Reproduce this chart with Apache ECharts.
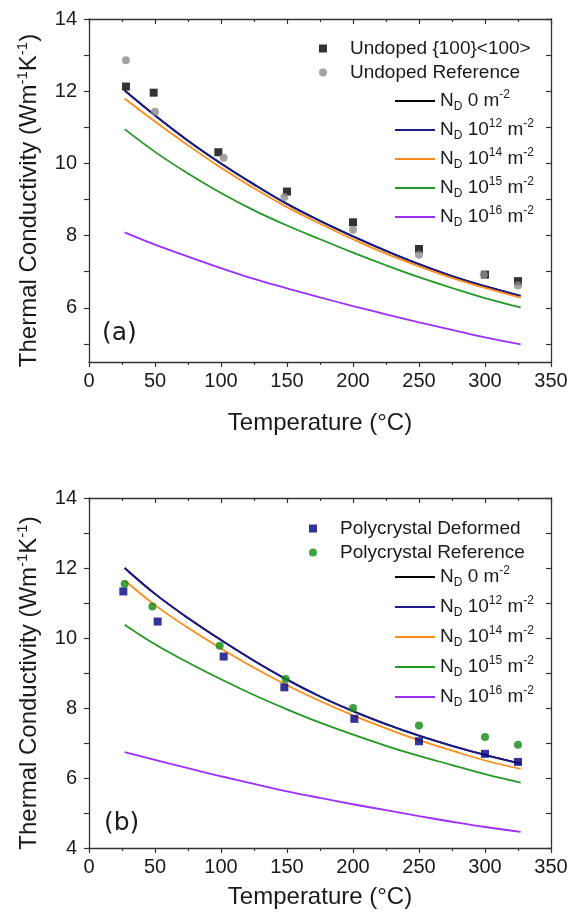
<!DOCTYPE html>
<html>
<head>
<meta charset="utf-8">
<script src="https://cdn.jsdelivr.net/npm/echarts@6/dist/echarts.min.js"></script>
<style>
html, body { margin: 0; padding: 0; background: #fff; }
#chart { width: 577px; height: 922px; }
</style>
</head>
<body>
<div id="chart"></div>
<script>
const curveT = [27, 50, 75, 100, 125, 150, 175, 200, 225, 250, 275, 300, 327];

// (a) single crystal
const aND0 = [12.02, 11.33, 10.63, 10.0, 9.42, 8.88, 8.41, 7.98, 7.58, 7.21, 6.88, 6.6, 6.33];
const aND12 = [12.02, 11.33, 10.63, 10.0, 9.42, 8.88, 8.41, 7.98, 7.58, 7.21, 6.88, 6.6, 6.33];
const aND14 = [11.8, 11.16, 10.5, 9.88, 9.31, 8.79, 8.33, 7.9, 7.5, 7.15, 6.83, 6.55, 6.28];
const aND15 = [10.95, 10.32, 9.72, 9.18, 8.7, 8.28, 7.9, 7.53, 7.18, 6.85, 6.55, 6.27, 6.01];
const aND16 = [8.09, 7.75, 7.42, 7.1, 6.8, 6.54, 6.29, 6.05, 5.82, 5.6, 5.39, 5.18, 4.99];
const aUndopedT = [28, 49, 98, 150, 200, 250, 300, 325];
const aUndoped = [12.13, 11.96, 10.31, 9.22, 8.37, 7.63, 6.92, 6.74];
const aRefT = [28, 50, 102, 148, 200, 250, 299, 325];
const aRef = [12.86, 11.43, 10.16, 9.07, 8.16, 7.47, 6.92, 6.62];

// (b) polycrystal
const bND0 = [12.0, 11.26, 10.57, 9.94, 9.35, 8.81, 8.33, 7.91, 7.54, 7.21, 6.92, 6.66, 6.41];
const bND12 = [12.0, 11.26, 10.57, 9.94, 9.35, 8.81, 8.33, 7.91, 7.54, 7.21, 6.92, 6.66, 6.41];
const bND14 = [11.65, 10.94, 10.29, 9.7, 9.15, 8.65, 8.2, 7.79, 7.42, 7.08, 6.78, 6.5, 6.26];
const bND15 = [10.38, 9.82, 9.3, 8.82, 8.37, 7.96, 7.58, 7.24, 6.92, 6.63, 6.37, 6.11, 5.87];
const bND16 = [6.74, 6.52, 6.28, 6.05, 5.83, 5.62, 5.43, 5.25, 5.08, 4.91, 4.75, 4.6, 4.46];
const bDefT = [26, 52, 102, 148, 201, 250, 300, 325];
const bDef = [11.33, 10.47, 9.47, 8.59, 7.69, 7.05, 6.69, 6.46];
const bRefT = [27, 48, 99, 149, 200, 250, 300, 325];
const bRef = [11.54, 10.9, 9.78, 8.83, 8.0, 7.5, 7.17, 6.95];

// axis ticks
const yTicksA = [5, 6, 7, 8, 9, 10, 11, 12, 13, 14];
const yLabelsA = [6, 8, 10, 12, 14];
const yTicksB = [4, 5, 6, 7, 8, 9, 10, 11, 12, 13, 14];
const yLabelsB = [4, 6, 8, 10, 12, 14];

const lineNames = ['ND0', 'ND12', 'ND14', 'ND15', 'ND16'];
const lineExp = { ND0: '{b| 0 m}', ND12: '{b| 10}{p|12}{b| m}', ND14: '{b| 10}{p|14}{b| m}', ND15: '{b| 10}{p|15}{b| m}', ND16: '{b| 10}{p|16}{b| m}' };
const lineColors = ['#000000', '#1c1c8e', '#ff8c1a', '#229922', '#9b30ff'];

const FONT = 'Liberation Sans';
const axisCol = '#333';
const textCol = '#1a1a1a';

const chart = echarts.init(document.getElementById('chart'));

function pairs(xs, ys) {
  return xs.map((x, i) => [x, ys[i]]);
}

function xAxes(g, nameGap) {
  return [
    {
      type: 'value', gridIndex: g, position: 'bottom', min: 0, max: 350, interval: 50,
      axisLine: { onZero: false, lineStyle: { color: axisCol, width: 1.3 } },
      axisTick: { length: 5, lineStyle: { color: axisCol, width: 1.2 } },
      minorTick: { show: true, splitNumber: 2, length: 3, lineStyle: { color: axisCol, width: 1.2 } },
      splitLine: { show: false },
      axisLabel: { fontFamily: FONT, fontSize: 20, color: textCol, margin: 9 },
      name: 'Temperature (°C)', nameLocation: 'middle', nameGap: nameGap,
      nameTextStyle: { fontFamily: FONT, fontSize: 24, color: textCol }
    },
    {
      type: 'value', gridIndex: g, position: 'top', min: 0, max: 350, interval: 50,
      axisLine: { onZero: false, lineStyle: { color: axisCol, width: 1.3 } },
      axisTick: { inside: true, length: 5, lineStyle: { color: axisCol, width: 1.2 } },
      minorTick: { show: true, splitNumber: 2, length: 3, lineStyle: { color: axisCol, width: 1.2 } },
      splitLine: { show: false },
      axisLabel: { show: false }
    }
  ];
}

function yAxes(g, min, ticks, labels) {
  return [
    {
      type: 'value', gridIndex: g, position: 'left', min: min, max: 14,
      axisLine: { onZero: false, lineStyle: { color: axisCol, width: 1.3 } },
      axisTick: { length: 5, customValues: ticks, lineStyle: { color: axisCol, width: 1.2 } },
      splitLine: { show: false },
      axisLabel: { fontFamily: FONT, fontSize: 20, color: textCol, margin: 12, customValues: labels },
      name: 'Thermal Conductivity (Wm{p|-1}K{p|-1})', nameLocation: 'middle', nameGap: 44,
      nameTextStyle: {
        fontFamily: FONT, fontSize: 24, color: textCol, lineHeight: 28, padding: [0, 20, 0, 0],
        rich: { p: { fontFamily: FONT, fontSize: 15, color: textCol, verticalAlign: 'top', lineHeight: 28 } }
      }
    },
    {
      type: 'value', gridIndex: g, position: 'right', min: min, max: 14,
      axisLine: { onZero: false, lineStyle: { color: axisCol, width: 1.3 } },
      axisTick: { inside: true, length: 5, customValues: ticks, lineStyle: { color: axisCol, width: 1.2 } },
      splitLine: { show: false },
      axisLabel: { show: false }
    }
  ];
}

function lineSeries(axisBase, values) {
  return values.map((v, i) => ({
    name: lineNames[i], type: 'line', xAxisIndex: axisBase, yAxisIndex: axisBase,
    data: pairs(curveT, v), smooth: 0.4, symbol: 'none', z: 2 + i * 0.01,
    lineStyle: { color: lineColors[i], width: 1.8 }, itemStyle: { color: lineColors[i] }
  }));
}

function scatterSeries(axisBase, name, xs, ys, symbol, color) {
  return {
    name: name, type: 'scatter', xAxisIndex: axisBase, yAxisIndex: axisBase,
    data: pairs(xs, ys), symbol: symbol, symbolSize: 8, z: 5, itemStyle: { color: color }
  };
}

const legendRich = {
  b: { fontFamily: FONT, fontSize: 19, color: textCol, lineHeight: 24 },
  s: { fontFamily: FONT, fontSize: 12, color: textCol, lineHeight: 24, verticalAlign: 'bottom' },
  p: { fontFamily: FONT, fontSize: 12, color: textCol, lineHeight: 24, verticalAlign: 'top' }
};

function lineLegend(top, gap) {
  return {
    data: lineNames.map(n => ({ name: n, icon: 'rect' })),
    orient: 'vertical', left: 395, top: top, padding: 0,
    itemWidth: 40, itemHeight: 2, itemGap: gap, selectedMode: false,
    formatter: n => '{b|N}{s|D}' + lineExp[n] + '{p|-2}',
    textStyle: { rich: legendRich }
  };
}

function dotLegend(names, left, top) {
  return {
    data: names, orient: 'vertical', left: left, top: top, padding: 0,
    itemWidth: 8, itemHeight: 8, itemGap: 5, selectedMode: false,
    textStyle: { fontFamily: FONT, fontSize: 19, color: textCol, padding: [0, 0, 0, 18] }
  };
}

chart.setOption({
  animation: false,
  backgroundColor: '#fff',
  grid: [
    { left: 89, top: 19, width: 462, height: 343 },
    { left: 89, top: 498, width: 462, height: 350 }
  ],
  xAxis: [...xAxes(0, 49), ...xAxes(1, 37)].map((a, i) => Object.assign(a, { gridIndex: i < 2 ? 0 : 1 })),
  yAxis: [...yAxes(0, 4.5, yTicksA, yLabelsA), ...yAxes(1, 4, yTicksB, yLabelsB)].map((a, i) => Object.assign(a, { gridIndex: i < 2 ? 0 : 1 })),
  legend: [
    dotLegend(['Undoped {100}<100>', 'Undoped Reference'], 319, 39),
    lineLegend(89, 5),
    dotLegend(['Polycrystal Deformed', 'Polycrystal Reference'], 309, 519),
    lineLegend(565, 6)
  ],
  graphic: [
    { type: 'text', left: 102, top: 321, style: { text: '(a)', font: '25px "DejaVu Sans"', fill: textCol } },
    { type: 'text', left: 104, top: 811, style: { text: '(b)', font: '25px "DejaVu Sans"', fill: textCol } }
  ],
  series: [
    ...lineSeries(0, [aND0, aND12, aND14, aND15, aND16]),
    scatterSeries(0, 'Undoped {100}<100>', aUndopedT, aUndoped, 'rect', '#000000'),
    scatterSeries(0, 'Undoped Reference', aRefT, aRef, 'circle', '#8c8c8c'),
    ...lineSeries(2, [bND0, bND12, bND14, bND15, bND16]),
    scatterSeries(2, 'Polycrystal Deformed', bDefT, bDef, 'rect', '#000080'),
    scatterSeries(2, 'Polycrystal Reference', bRefT, bRef, 'circle', '#0f8a0f')
  ]
});
</script>
</body>
</html>
